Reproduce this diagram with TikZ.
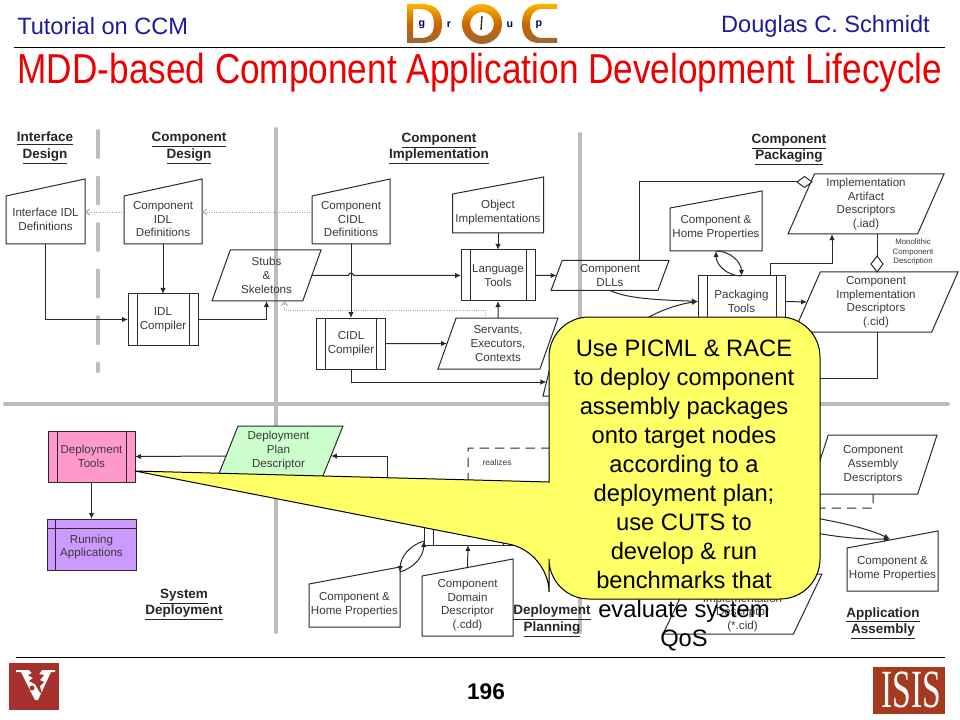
\documentclass[tikz,border=0pt]{standalone}
\usepackage{fontspec}
\setmainfont{Liberation Sans}
\usetikzlibrary{shapes.geometric,arrows.meta,calc}
\definecolor{boxline}{HTML}{2A2A2A}
\definecolor{boxtext}{HTML}{3A3A3A}
\definecolor{gridgrey}{HTML}{BDBDBD}
\definecolor{dotgrey}{HTML}{A8A8A8}
\definecolor{headblue}{HTML}{1C1C9C}
\definecolor{balloon}{HTML}{FFFF66}
\definecolor{logored}{HTML}{A5302C}
\definecolor{isisred}{HTML}{A53A1E}
\definecolor{toolpink}{HTML}{FF99CC}
\definecolor{apppurple}{HTML}{CC99FF}
\definecolor{plangreen}{HTML}{CCFFCC}
\newcommand{\boxfont}{\fontsize{8.7}{10.25}\selectfont}
\newcommand{\headfont}{\fontsize{10.1}{12.2}\selectfont\bfseries}
\newcommand{\liftby}[1]{\rule[-#1]{0pt}{#1}}
\tikzset{
    >={Latex[length=4.5pt,width=4pt]},
    conn/.style={draw=boxline, line width=0.75pt},
    dotconn/.style={draw=dotgrey, line width=0.7pt, densely dotted, -{Straight Barb[length=3pt,width=4.5pt]}},
    divider/.style={draw=gridgrey, line width=3pt, line cap=round},
    heading/.style={align=center, font=\headfont, text=black!85, inner sep=0pt},
    process/.style 2 args={rectangle, draw=boxline, line width=0.75pt, minimum width=#1*0.75pt,
        minimum height=#2*0.75pt, inner sep=0pt, outer sep=0pt, align=center, font=\boxfont, text=boxtext,
        path picture={
            \draw[boxline, line width=0.75pt] ([xshift=6.75pt]path picture bounding box.north west) -- ([xshift=6.75pt]path picture bounding box.south west);
            \draw[boxline, line width=0.75pt] ([xshift=-6.75pt]path picture bounding box.north east) -- ([xshift=-6.75pt]path picture bounding box.south east);
        }},
    manualbox/.style 2 args={rectangle, minimum width=#1*0.75pt, minimum height=#2*0.75pt,
        inner sep=0pt, outer sep=0pt, align=center, font=\boxfont, text=boxtext,
        append after command={\pgfextra{
            \draw[boxline, line width=0.75pt] (\tikzlastnode.south west) -- (\tikzlastnode.north west)
                -- ([yshift=12.75pt]\tikzlastnode.north east) -- (\tikzlastnode.south east) -- cycle;
        }}},
    para/.style 2 args={trapezium, trapezium left angle=63, trapezium right angle=117,
        trapezium stretches body=true, draw=boxline, line width=0.75pt, minimum width=#1*0.75pt,
        minimum height=#2*0.75pt, inner sep=0pt, outer sep=0pt, align=center, font=\boxfont, text=boxtext},
    dia/.style 2 args={diamond, draw=boxline, line width=0.75pt, fill=white, minimum width=#1*0.75pt,
        minimum height=#2*0.75pt, inner sep=0pt, outer sep=0pt},
    logogold/.style={top color=orange!60!yellow, bottom color=brown!80!black, middle color=orange!80!black, even odd rule},
    logoletter/.style={font=\fontsize{8}{8}\selectfont\bfseries, text=blue!40!black, inner sep=0pt},
}
\begin{document}
\begin{tikzpicture}[x=0.75pt, y=-0.75pt]
    \useasboundingbox (0,0) rectangle (960,720);
    \fill[white] (0,0) rectangle (960,720);
    % header
    \node[anchor=west, inner sep=0pt, text=headblue, font=\fontsize{17.7}{20}\selectfont] (course) at (17,26) {Tutorial on CCM};
    \node[anchor=east, inner sep=0pt, text=headblue, font=\fontsize{17.7}{20}\selectfont] (speaker) at (930,26) {Douglas C. Schmidt};
    \node[anchor=base, inner sep=0pt, text=red!93!black, xscale=0.84, font=\fontsize{31.4}{36}\selectfont] (title) at (480,84) {MDD-based Component Application Development Lifecycle};
    \draw[line width=0.75pt] (14,48) -- (945,48);
    \draw[line width=0.75pt] (16,657) -- (945,657);
    % top logo
    \shade[logogold] (407,4) -- (422,4) .. controls (436,4) and (442,12) .. (442,24) .. controls (442,36) and (436,43) .. (422,43) -- (407,43) -- cycle
        (413,9) -- (420,9) .. controls (430,9) and (434,15) .. (434,24) .. controls (434,33) and (430,38) .. (420,38) -- (413,38) -- cycle;
    \shade[logogold] (482,24) circle (20) (482,24) circle (12);
    \draw[boxline, line width=1pt] (482,16) -- (481,30);
    \shade[logogold] (557,4) -- (540,4) .. controls (528,4) and (522,12) .. (522,24) .. controls (522,36) and (528,43) .. (540,43) -- (557,43) -- (557,38)
        -- (542,38) .. controls (534,38) and (530,32) .. (530,24) .. controls (530,15) and (534,9) .. (542,9) -- (557,9) -- cycle;
    \node[logoletter] (lgg) at (422,25) {g};
    \node[logoletter] (lgr) at (449,25) {r};
    \node[logoletter] (lgu) at (510,25) {u};
    \node[logoletter] (lgp) at (539,25) {p};
    % bottom logos
    \fill[logored] (9,663) rectangle (59,710);
    \fill[white] (16,670) -- (55,670) -- (55,672) -- (51,672) -- (38,700) -- (35,700) -- (21,672) -- (16,672) -- cycle;
    \fill[logored] (29,670) -- (42,670) -- (39,674) -- (44,675) -- (40,680) -- (44,682) -- (40,686) -- (42,695) -- (39,691) -- (35,684) -- (29,681) -- (33,678) -- (28,675) -- (32,673) -- cycle;
    \fill[logored] (32,688) circle (2.5);
    \fill[isisred] (873,667) rectangle (945,714);
    \node[inner sep=0pt, text=white, xscale=0.97, yscale=1.55, font=\fontsize{26}{26}\selectfont\itshape\setmainfont{Liberation Serif}] (isis) at (911,690) {ISIS};
    \node[inner sep=0pt, font=\fontsize{17}{20}\selectfont\bfseries] (pageno) at (486,692) {196};
    % dividers
    \draw[divider] (5,404) -- (948,404);
    \draw[divider] (276,129) -- (276,632);
    \draw[divider] (580,134) -- (580,632);
    \draw[divider, dash pattern=on 19.5pt off 15.4pt] (97.5,131) -- (97.5,371);
    % phase labels
    \node[heading] (hdiface) at (45,148) {\underline{Interface}\\\underline{Design}};
    \node[heading] (hdcomp) at (189,148) {\underline{Component}\\\underline{Design}};
    \node[heading] (hdimpl) at (439,148.5) {\underline{Component}\\\underline{Implementation}};
    \node[heading] (hdpack) at (789,149.5) {\underline{Component}\\\underline{Packaging}};
    \node[heading] (hdsys) at (184,604.5) {\underline{System}\\\underline{Deployment}};
    \node[heading] (hdplan) at (552,621) {\underline{Deployment}\\\underline{Planning}};
    \node[heading] (hdasm) at (883,623) {\underline{Application}\\\underline{Assembly}};
    % top row
    \node[manualbox={79}{48}] (ifacedef) at (45.5,220) {Interface IDL\\Definitions\liftby{1.5pt}};
    \node[manualbox={78}{48}] (idldef) at (163,220) {Component\\IDL\\Definitions\liftby{1.5pt}};
    \node[process={70}{51}] (idlcomp) at (163,319.5) {IDL\\Compiler};
    \node[para={109}{51}] (stubs) at (266.5,275.5) {Stubs\\\&\\Skeletons};
    \node[manualbox={78}{48}] (cidldef) at (351,220) {Component\\CIDL\\Definitions\liftby{1.5pt}};
    \node[process={69}{51}] (cidlcomp) at (351,343.5) {CIDL\\Compiler};
    \node[manualbox={91}{39}] (objimpl) at (498,213.5) {Object\\Implementations\liftby{3pt}};
    \node[process={74}{51}] (langtools) at (498,275.5) {Language\\Tools};
    \node[para={120}{51}] (servants) at (498,343.5) {Servants,\\Executors,\\Contexts};
    \node[para={118}{30}] (dlls) at (610,275.5) {Component\\DLLs};
    \node[para={108}{28}] (hiddenpara) at (597,382) {~\\~};
    \node[manualbox={92}{43}] (homeprops) at (716,229.5) {Component \&\\Home Properties\liftby{4.5pt}};
    \node[process={87}{51}] (packtools) at (741.5,301.5) {Packaging\\Tools};
    \node[para={156}{60}] (iad) at (866,204) {Implementation\\Artifact\\Descriptors\\(.iad)};
    \node[para={164}{60}] (cid) at (876,302) {Component\\Implementation\\Descriptors\\(.cid)};
    \node[dia={15}{11}] (diaiad) at (804.5,182) {};
    \node[dia={12}{16}] (diacid) at (877,264) {};
    \node[inner sep=0pt, align=center, text=boxtext, font=\fontsize{5.9}{6.9}\selectfont] (mono) at (913,252) {Monolithic\\Component\\Description};
    % bottom row
    \node[process={87}{51}, fill=toolpink] (deptools) at (91.5,456.5) {Deployment\\Tools};
    \node[rectangle, draw=boxline, line width=0.75pt, fill=apppurple, minimum width=66.75pt, minimum height=38.25pt,
        inner sep=0pt, outer sep=0pt, align=center, font=\boxfont, text=boxtext,
        path picture={
            \draw[boxline, line width=0.75pt] ([xshift=6pt]path picture bounding box.north west) -- ([xshift=6pt]path picture bounding box.south west);
            \draw[boxline, line width=0.75pt] ([yshift=-6.75pt]path picture bounding box.north west) -- ([yshift=-6.75pt]path picture bounding box.north east);
        }] (running) at (91.5,544.5) {\rule{0pt}{10pt}Running\\Applications};
    \node[para={129}{60}, fill=plangreen, trapezium left angle=64, trapezium right angle=116] (plan) at (278.5,456) {Deployment\\Plan\\Descriptor\\~};
    \node[process={88}{51}] (plantools) at (468,519.5) {};
    \node[manualbox={91}{43}] (homepropsb) at (354.5,605.5) {Component \&\\Home Properties\liftby{3pt}};
    \node[manualbox={91}{60}] (domain) at (467.5,606) {Component\\Domain\\Descriptor\\(.cdd)\liftby{3pt}};
    \node[inner sep=0pt, text=boxtext, font=\fontsize{6.3}{7}\selectfont] (realizes) at (497,462) {realizes};
    \node[para={128}{59}] (asm) at (873,464.5) {Component\\Assembly\\Descriptors};
    \node[manualbox={91}{43}] (homepropsc) at (892.5,569.5) {Component \&\\Home Properties\liftby{3pt}};
    \node[para={159}{60}] (impldesc) at (742.5,604) {\rule{0pt}{9.5pt}\\Implementation\\Descriptor\\(*.cid)};
    \coordinate (realend) at (700,448);
    \coordinate (cidend) at (760,378);
    \coordinate (asmtop) at (780,512);
    \coordinate (asmlow) at (780,525);
    \coordinate (homein) at (890,539);
    % dotted dependencies
    \draw[dotconn] ([yshift=6pt]cidldef.west) -- ([yshift=6pt]idldef.east);
    \draw[dotconn] ([yshift=6pt]idldef.west) -- ([yshift=6pt]ifacedef.east);
    \draw[dotconn] ([xshift=-9.75pt]servants.north) -- ++(0,-8) -| ([xshift=13.5pt]stubs.south);
    % top connectors
    \draw[conn, ->] (ifacedef.south) |- (idlcomp.west);
    \draw[conn, ->] (idldef.south) -- (idlcomp.north);
    \draw[conn, ->] (idlcomp.east) -| (stubs.south);
    \draw[conn, ->] (stubs.east) -- ([xshift=-1.9pt]cidldef.south |- stubs.east) arc[start angle=180, end angle=0, radius=1.9pt] -- (langtools.west);
    \draw[conn, ->] (cidldef.south) -- (cidlcomp.north);
    \draw[conn, ->] (objimpl.south) -- (langtools.north);
    \draw[conn, ->] (servants.north) -- (langtools.south);
    \draw[conn, ->] (cidlcomp.east) -- (servants.west);
    \draw[conn, ->] (cidlcomp.south) |- (hiddenpara.west);
    \draw[conn, ->] (langtools.east) -- (dlls.west);
    \draw[conn, ->] (dlls.south) .. controls (630,300) and (670,300) .. (packtools.west);
    \draw[conn, ->] (hiddenpara.north) .. controls (620,325) and (665,306) .. (packtools.west);
    \draw[conn] ([xshift=21.75pt]dlls.north) |- (diaiad.west);
    \draw[conn, ->] (homeprops.south) to[bend left=45] (packtools.north);
    \draw[conn, ->] (packtools.north) to[bend left=45] (homeprops.south);
    \draw[conn, ->] ([xshift=21.4pt]packtools.north) -- ++(0,-12) -| ([xshift=-25.5pt]iad.south);
    \draw[conn, ->] (packtools.east) -- (cid.west);
    \draw[conn] (diacid.north) -- (diacid.north |- iad.south);
    \draw[conn] (diacid.south |- cid.south) |- (cidend);
    % bottom connectors
    \draw[conn, ->] (plan.west) -- (deptools.east);
    \draw[conn, ->] (deptools.south) -- (running.north);
    \draw[conn, ->] (plantools.west) -- ++(-37,0) |- (plan.east);
    \draw[conn, ->] ([yshift=6pt]domain.north) -- (plantools.south);
    \draw[conn, ->] ([yshift=3pt]plantools.south west) to[bend right=35] ([yshift=9pt]homepropsb.north east);
    \draw[conn, ->] ([yshift=9pt]homepropsb.north east) to[bend right=35] ([yshift=3pt]plantools.south west);
    \draw[conn, dash pattern=on 7pt off 4.5pt] (asm.south) -- ++(0,14) -- ++(-405,0) -- ++(0,-60) -- (realend);
    \draw[conn, ->] (asmtop) .. controls (830,520) and (865,527) .. (homein);
    \draw[conn, ->] (asmlow) .. controls (810,533) and (850,540) .. (homein);
    % balloon over the diagram
    \coordinate (tip) at (135,471);
    \draw[line width=0.75pt, fill=balloon] (tip) -- (549,482) [rounded corners=30pt] -- (549,317) -- (820,317) -- (820,599) -- (549,599) -- (549,552) [sharp corners] -- cycle;
    \node[inner sep=0pt, align=center, font=\fontsize{17.8}{21.75}\selectfont] (note) at (684,495) {Use PICML \& RACE\\to deploy component\\assembly packages\\onto target nodes\\according to a\\deployment plan;\\use CUTS to\\develop \& run\\benchmarks that\\evaluate system\\QoS};
\end{tikzpicture}
\end{document}
